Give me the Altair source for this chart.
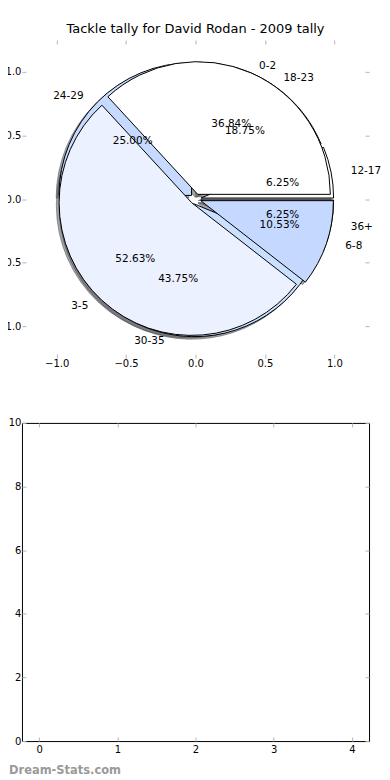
import math
import altair as alt
import pandas as pd

# ---------------- data ----------------
TITLE = "Tackle tally for David Rodan - 2009 tally"
cats_top = ["0-2", "3-5", "6-8"]
vals_top = [7, 10, 2]
cats_under = ["12-17", "18-23", "24-29", "30-35", "36+"]
vals_under = [1, 3, 4, 7, 1]
pie_ticks = [-1.0, -0.5, 0.0, 0.5, 1.0]
grid_x_ticks = [0, 1, 2, 3, 4]
grid_y_ticks = [0, 2, 4, 6, 8, 10]
watermark = "Dream-Stats.com"

# ---------------- style ----------------
colors_top = ["#ffffff", "#ebf1ff", "#c5d8ff"]
colors_under = ["#ffffff", "#ebf1ff", "#c6d9ff", "#c9e0ff", "#dce8ff"]
EXPLODE = 0.04
SHADOW = 0.02
R_PX = 133
FONT = "DejaVu Sans"
TICK = "#b5b5b5"
W, H = 348, 319


def wedge_rows(cats, vals, layer):
    total = float(sum(vals))
    rows, cum = [], 0.0
    for c, v in zip(cats, vals):
        f0 = cum / total
        cum += v
        f1 = cum / total
        mid = math.pi * (f0 + f1)
        cx, cy = EXPLODE * math.cos(mid), EXPLODE * math.sin(mid)
        lx, ly = cx + 1.1 * math.cos(mid), cy + 1.1 * math.sin(mid)
        rows.append({
            "cat": c, "layer": layer, "f0": f0, "f1": f1,
            "cx": cx, "cy": cy, "sx": cx - SHADOW, "sy": cy - SHADOW,
            "lx": lx, "ly": ly,
            "px": cx + 0.6 * math.cos(mid), "py": cy + 0.6 * math.sin(mid),
            "pct": f"{100.0 * v / total:.2f}%",
            "side": "L" if lx > 0 else "R",
        })
    return rows


df = pd.DataFrame(wedge_rows(cats_under, vals_under, "under") + wedge_rows(cats_top, vals_top, "top"))

xs = alt.Scale(domain=[-1.25, 1.25], nice=False, zero=False)
ys = alt.Scale(domain=[-1.25, 1.25], nice=False, zero=False)
ts = alt.Scale(domain=[0, 1], range=[math.pi / 2, math.pi / 2 - 2 * math.pi])
fill_scale = alt.Scale(domain=cats_top + cats_under, range=colors_top + colors_under)


def tick_axis(orient, values, labels=True, fmt=None, pad=4):
    kw = dict(orient=orient, values=values, domain=False, grid=False, ticks=True,
              tickColor=TICK, tickSize=4, tickWidth=1, offset=-4, title=None,
              labels=labels, labelFlush=False, labelFontSize=10, labelFont=FONT,
              labelColor="black", labelPadding=pad)
    if fmt:
        kw["format"] = fmt
    return alt.Axis(**kw)


PIE_X_AXIS = tick_axis("bottom", pie_ticks, fmt=".1f", pad=0)
PIE_Y_AXIS = tick_axis("left", pie_ticks, fmt=".1f", pad=1)

base = alt.Chart(df)

shadows = base.mark_arc(radius=R_PX, fill="#4b4d52", fillOpacity=0.5,
                        stroke="#4b4d52", strokeOpacity=0.5, strokeWidth=1).encode(
    x=alt.X("sx:Q", scale=xs, axis=PIE_X_AXIS),
    y=alt.Y("sy:Q", scale=ys, axis=PIE_Y_AXIS),
    theta=alt.Theta("f0:Q", scale=ts),
    theta2="f1:Q",
)


def wedges(layer):
    return base.transform_filter(alt.datum.layer == layer).mark_arc(
        radius=R_PX, stroke="black", strokeWidth=1).encode(
        x=alt.X("cx:Q", scale=xs, axis=PIE_X_AXIS),
        y=alt.Y("cy:Q", scale=ys, axis=PIE_Y_AXIS),
        theta=alt.Theta("f0:Q", scale=ts),
        theta2="f1:Q",
        fill=alt.Fill("cat:N", scale=fill_scale, legend=None),
    )


def cat_labels(side, align):
    return base.transform_filter(alt.datum.side == side).mark_text(
        align=align, baseline="middle", font=FONT, fontSize=10.5, color="black").encode(
        x=alt.X("lx:Q", scale=xs, axis=PIE_X_AXIS),
        y=alt.Y("ly:Q", scale=ys, axis=PIE_Y_AXIS),
        text="cat:N",
    )


pct_labels = base.mark_text(align="center", baseline="middle", font=FONT,
                            fontSize=10.5, color="black").encode(
    x=alt.X("px:Q", scale=xs, axis=PIE_X_AXIS),
    y=alt.Y("py:Q", scale=ys, axis=PIE_Y_AXIS),
    text="pct:N",
)

pie_inner = alt.layer(shadows, wedges("under"), wedges("top"),
                      cat_labels("L", "left"), cat_labels("R", "right"), pct_labels)

pie_axes_df = pd.DataFrame({"v": pie_ticks})
pie_axes = alt.Chart(pie_axes_df).mark_point(opacity=0).encode(
    x=alt.X("v:Q", scale=xs, axis=tick_axis("top", pie_ticks, labels=False)),
    y=alt.Y("v:Q", scale=ys, axis=tick_axis("right", pie_ticks, labels=False)),
)

top = alt.layer(pie_inner, pie_axes).resolve_scale(x="independent", y="independent").properties(
    width=W, height=H,
    view=alt.ViewBackground(strokeWidth=0),
    title=alt.TitleParams(TITLE, fontSize=13, font=FONT, fontWeight="normal",
                          color="black", anchor="middle", frame="group", offset=3),
)

# ---------------- empty bottom panel ----------------
gx = alt.Scale(domain=[-0.22, 4.22], nice=False, zero=False)
gy = alt.Scale(domain=[0, 10], nice=False, zero=False)
grid_df = pd.DataFrame({"x": grid_x_ticks, "y": grid_y_ticks[:len(grid_x_ticks)]})

grid_main = alt.Chart(grid_df).mark_point(opacity=0).encode(
    x=alt.X("x:Q", scale=gx, axis=tick_axis("bottom", grid_x_ticks, fmt="d", pad=3)),
    y=alt.Y("y:Q", scale=gy, axis=tick_axis("left", grid_y_ticks, fmt="d", pad=1)),
)
grid_axes = alt.Chart(grid_df).mark_point(opacity=0).encode(
    x=alt.X("x:Q", scale=gx, axis=tick_axis("top", grid_x_ticks, labels=False)),
    y=alt.Y("y:Q", scale=gy, axis=tick_axis("right", grid_y_ticks, labels=False)),
)

bottom = alt.layer(grid_main, grid_axes).resolve_scale(x="independent", y="independent").properties(
    width=W, height=H,
    view=alt.ViewBackground(stroke="black", strokeWidth=1),
    title=alt.TitleParams(watermark, orient="bottom", anchor="start", frame="group",
                          fontSize=11.5, font=FONT, fontWeight="bold", color="#9a9a9a",
                          offset=11, dx=-13),
)

chart = alt.vconcat(top, bottom, spacing=49).properties(
    padding={"left": -12, "top": 14, "right": 0, "bottom": 0}
).configure(background="white")

chart.save("out.html", embed_options={"renderer": "svg", "actions": False})
